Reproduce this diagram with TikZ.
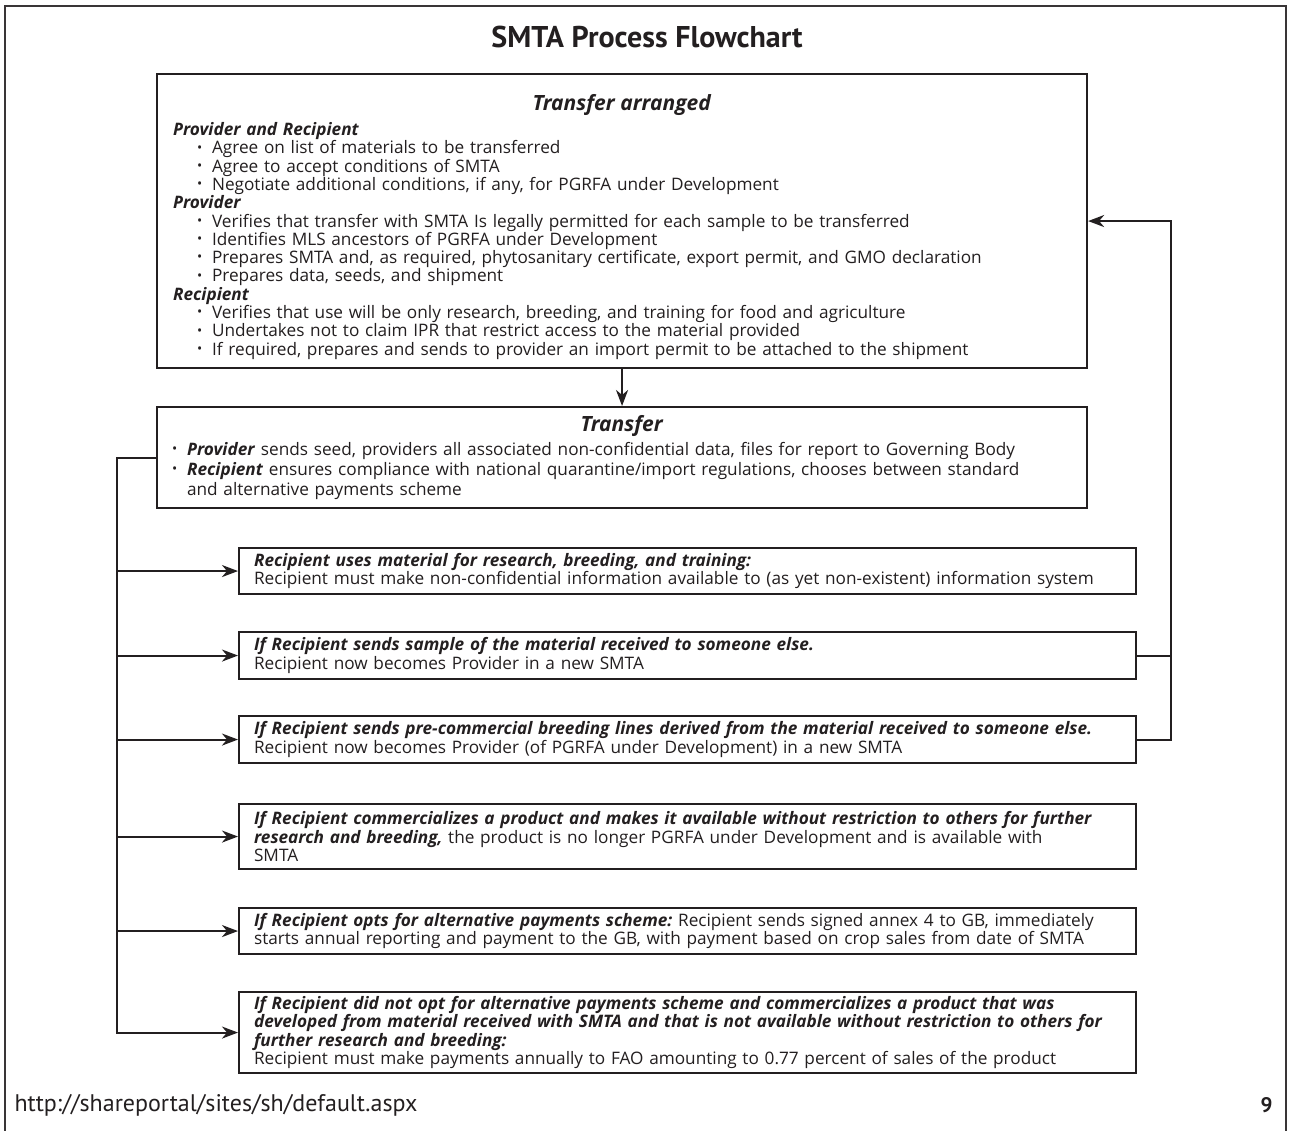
\documentclass[tikz,border=0pt]{standalone}
\usepackage{graphicx}
\usepackage{fontspec}
\setmainfont{Open Sans}
\newfontfamily\titlefont{PT Sans}
\usetikzlibrary{arrows.meta}
\definecolor{ink}{HTML}{231F20}
\newcommand\bi[1]{\textbf{\textit{#1}}}
\newcommand\dotb{\raisebox{0.2ex}{\scalebox{0.8}{\textbullet}}}
\newcommand\itm[1]{\mbox{\hspace*{24pt}\makebox[15pt][l]{\dotb}#1}}
\newcommand\tbul[1]{\mbox{\makebox[15pt][l]{\dotb}#1}}
\newcommand\ctr[2]{\makebox[#1][c]{#2}}
\begin{document}
\begin{tikzpicture}[x=1pt,y=-1pt,
  box/.style={draw=ink, line width=2.1pt, anchor=north west, inner xsep=15pt, inner ysep=0pt,
    align=left, text=ink, font=\fontsize{17.2}{18.3}\selectfont},
  conn/.style={draw=ink, line width=2pt},
  arr/.style={conn, -{Stealth[length=16pt,width=12pt,inset=5pt]}}
]
\useasboundingbox (0,0) rectangle (1289,1131);
\fill[white] (0,0) rectangle (1289,1131);
\draw[line width=2.8pt, draw=ink!90] (5,1131) -- (5,6) -- (1286,6) -- (1286,1131);

\node[anchor=base, text=ink, font=\titlefont\fontsize{30}{32}\selectfont\bfseries] (title) at (647,48)
  {SMTA Process Flowchart};

% Transfer arranged
\node[box, inner xsep=16pt, text width=898pt, minimum width=930pt, minimum height=294pt] (arr) at (156,73) {%
\ctr{898pt}{\rule{0pt}{28pt}\fontsize{21}{23}\selectfont\bi{Transfer arranged}}\\[6.5pt]
\bi{Provider and Recipient}\\
\itm{Agree on list of materials to be transferred}\\
\itm{Agree to accept conditions of SMTA}\\
\itm{Negotiate additional conditions, if any, for PGRFA under Development}\\
\bi{Provider}\\
\itm{Verifies that transfer with SMTA Is legally permitted for each sample to be transferred}\\
\itm{Identifies MLS ancestors of PGRFA under Development}\\
\itm{Prepares SMTA and, as required, phytosanitary certificate, export permit, and GMO declaration}\\
\itm{Prepares data, seeds, and shipment}\\
\bi{Recipient}\\
\itm{Verifies that use will be only research, breeding, and training for food and agriculture}\\
\itm{Undertakes not to claim IPR that restrict access to the material provided}\\
\itm{If required, prepares and sends to provider an import permit to be attached to the shipment}};

% Transfer
\node[box, text width=900pt, minimum width=930pt, minimum height=101pt, font=\fontsize{17.2}{20}\selectfont] (xfer) at (156,406) {%
\ctr{900pt}{\fontsize{21}{23}\selectfont\bi{Transfer}}\\[4pt]
\tbul{\bi{Provider} sends seed, providers all associated non-confidential data, files for report to Governing Body}\\
\tbul{\bi{Recipient} ensures compliance with national quarantine/import regulations, chooses between standard}\\
\mbox{\hspace*{15pt}and alternative payments scheme}};

\node[box, text width=867pt, minimum width=897pt, minimum height=46pt] (b3) at (238,547) {%
\bi{Recipient uses material for research, breeding, and training:}\\
\mbox{Recipient must make non-confidential information available to (as yet non-existent) information system}};

\node[box, text width=867pt, minimum width=897pt, minimum height=47pt] (b4) at (238,631) {%
\bi{If Recipient sends sample of the material received to someone else.}\\
\mbox{Recipient now becomes Provider in a new SMTA}};

\node[box, text width=867pt, minimum width=897pt, minimum height=47pt] (b5) at (238,715) {%
\mbox{\bi{If Recipient sends pre-commercial breeding lines derived from the material received to someone else.}}\\
\mbox{Recipient now becomes Provider (of PGRFA under Development) in a new SMTA}};

\node[box, text width=867pt, minimum width=897pt, minimum height=65pt] (b6) at (238,803) {%
\mbox{\bi{If Recipient commercializes a product and makes it available without restriction to others for further}}\\
\mbox{\bi{research and breeding,} the product is no longer PGRFA under Development and is available with}\\
SMTA};

\node[box, text width=867pt, minimum width=897pt, minimum height=46pt] (b7) at (238,907) {%
\mbox{\bi{If Recipient opts for alternative payments scheme:}\ Recipient sends signed annex 4 to GB, immediately}\\
\mbox{starts annual reporting and payment to the GB, with payment based on crop sales from date of SMTA}};

\node[box, text width=867pt, minimum width=897pt, minimum height=81pt] (b8) at (238,991) {%
\mbox{\bi{If Recipient did not opt for alternative payments scheme and commercializes a product that was}}\\
\mbox{\bi{developed from material received with SMTA and that is not available without restriction to others for}}\\
\bi{further research and breeding:}\\
\mbox{Recipient must make payments annually to FAO amounting to 0.77 percent of sales of the product}};

\coordinate (lx) at (117,0);
\coordinate (rx) at (1171,0);

\draw[arr] (arr.south) -- (xfer.north);
\draw[arr] (xfer.west) -| (lx |- b8.west) -- (b8.west);
\draw[arr] (lx |- b3.west) -- (b3.west);
\draw[arr] (lx |- b4.west) -- (b4.west);
\draw[arr] (lx |- b5.west) -- (b5.west);
\draw[arr] (lx |- b6.west) -- (b6.west);
\draw[arr] (lx |- b7.west) -- (b7.west);
\draw[conn] (b4.east) -- (rx |- b4.east);
\draw[arr] (b5.east) -| (rx |- arr.east) -- (arr.east);

\node[anchor=base west, text=ink, font=\titlefont\fontsize{24}{26}\selectfont] (url) at (11,1111)
  {http://shareportal/sites/sh/default.aspx};
\node[anchor=base east, text=ink, font=\titlefont\fontsize{21}{23}\selectfont\bfseries] (pg) at (1276,1112) {9};
\end{tikzpicture}
\end{document}
